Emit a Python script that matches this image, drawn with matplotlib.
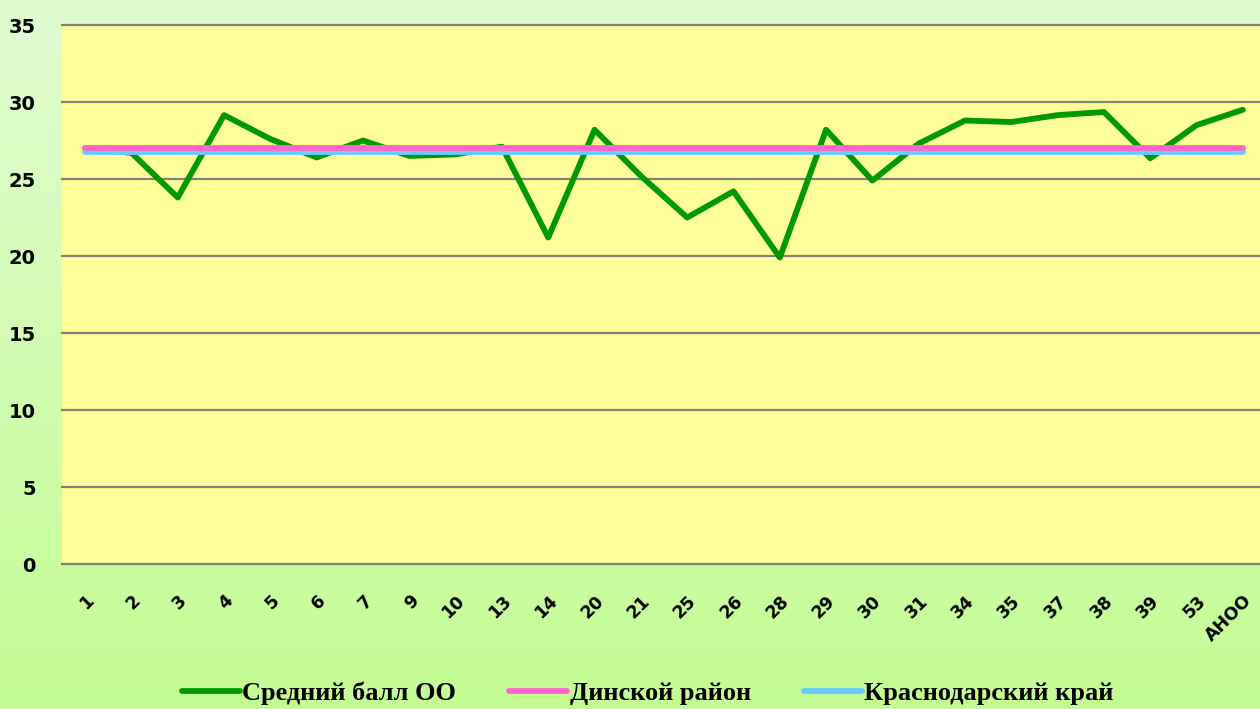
import numpy as np
import matplotlib.pyplot as plt

# data
schools = ['1', '2', '3', '4', '5', '6', '7', '9', '10', '13', '14', '20', '21',
           '25', '26', '28', '29', '30', '31', '34', '35', '37', '38', '39', '53', 'АНОО']
avg_oo = [27.0, 26.7, 23.8, 29.15, 27.6, 26.4, 27.5, 26.5, 26.6, 27.1, 21.2, 28.2, 25.2,
          22.5, 24.2, 19.9, 28.2, 24.9, 27.3, 28.8, 28.7, 29.15, 29.35, 26.35, 28.5, 29.5]
dinskoy = 27.0
krasnodar = 26.73

fig = plt.figure(figsize=(12.6, 7.09), dpi=100)

# gradient background
bg = fig.add_axes([0, 0, 1, 1], zorder=-10)
top = np.array([0.88, 0.99, 0.82])
bot = np.array([0.77, 0.99, 0.58])
t = np.linspace(0, 1, 256)[:, None]
grad = top * (1 - t) + bot * t
bg.imshow(grad[:, None, :].repeat(2, axis=1), aspect='auto', extent=[0, 1, 0, 1])
bg.axis('off')

ax = fig.add_axes([0.0492, 0.2045, 0.9556, 0.7602])
ax.set_facecolor('#ffff99')
x = np.arange(len(schools))

ax.plot(x, [krasnodar] * len(x), color='#66ccff', lw=4.2, solid_capstyle='round',
        label='Краснодарский край', zorder=3)
ax.plot(x, [dinskoy] * len(x), color='#ff66cc', lw=4.2, solid_capstyle='round',
        label='Динской район', zorder=4)
ax.plot(x, avg_oo, color='#009900', lw=4.2, solid_capstyle='round',
        label='Средний балл ОО', zorder=2)

ax.set_xlim(-0.5, len(schools) - 0.5)
ax.set_ylim(0, 35)
ax.set_yticks(range(0, 36, 5))
ax.grid(axis='y', color='#808080', lw=1.6)
ax.set_axisbelow(True)
for g in ax.yaxis.get_gridlines():
    g.set_clip_on(False)
for s in ax.spines.values():
    s.set_visible(False)
ax.tick_params(length=0)
ax.tick_params(axis='y', pad=19, labelsize=14)
ax.set_xticks(x)
ax.set_xticklabels(schools, rotation=45, ha='right', va='top', rotation_mode='anchor',
                   fontsize=12.5, fontweight='bold')
ax.tick_params(axis='x', pad=20)
for lab in ax.get_yticklabels():
    lab.set_fontweight('bold')

h, l = ax.get_legend_handles_labels()
order = [2, 1, 0]
fig.legend([h[i] for i in order], [l[i] for i in order], loc='center',
           bbox_to_anchor=(0.514, 0.022), ncol=3, frameon=False, handlelength=2.2,
           handletextpad=0.1, columnspacing=2.0,
           prop={'family': 'Liberation Serif', 'weight': 'bold', 'size': 19})

fig.savefig('out.png', dpi=100)
